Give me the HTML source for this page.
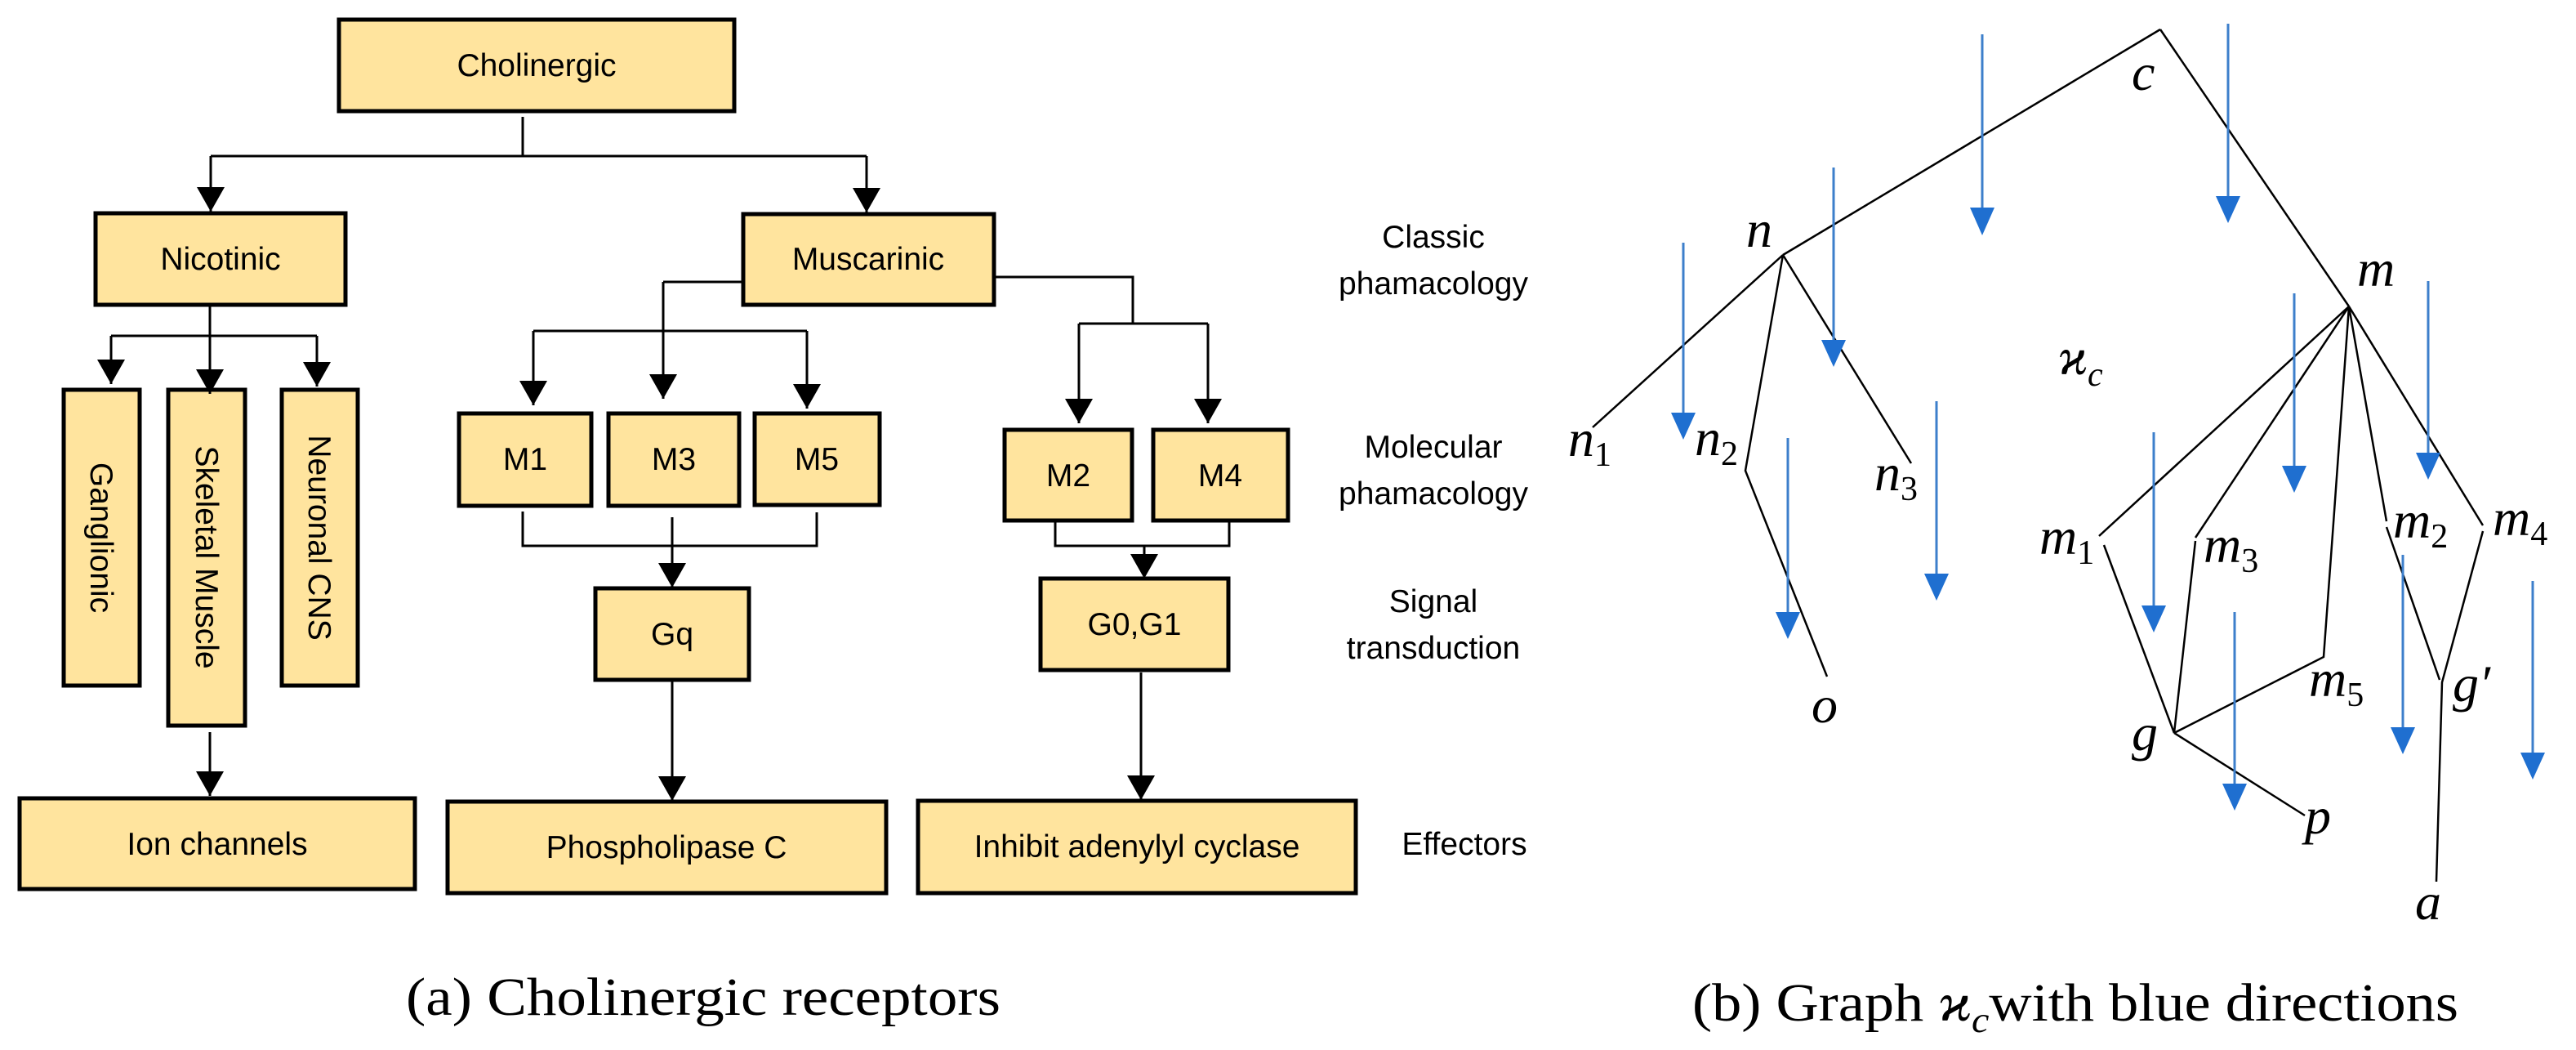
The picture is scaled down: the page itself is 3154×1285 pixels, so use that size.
<!DOCTYPE html>
<html><head><meta charset="utf-8"><style>html,body{margin:0;padding:0;background:#fff}svg{display:block}</style></head>
<body>
<svg width="3154" height="1285" viewBox="0 0 3154 1285" xmlns="http://www.w3.org/2000/svg">
<defs>
<marker id="ah" viewBox="0 0 34 30" refX="17" refY="30" markerWidth="34" markerHeight="30" markerUnits="userSpaceOnUse" orient="0"><path d="M0,0 L34,0 L17,30 Z" fill="#000"/></marker>
</defs>
<g font-family="Liberation Sans, sans-serif" font-size="39" text-anchor="middle" fill="#000">
<g fill="#FFE49E" stroke="#000" stroke-width="5">
<rect x="415" y="24" width="484" height="112"/>
<rect x="117" y="261" width="306" height="112"/>
<rect x="910" y="262" width="307" height="111"/>
<rect x="78" y="477" width="93" height="362"/>
<rect x="206" y="477" width="94" height="411"/>
<rect x="345" y="477" width="93" height="362"/>
<rect x="562" y="506" width="162" height="113"/>
<rect x="745" y="506" width="160" height="113"/>
<rect x="924" y="506" width="153" height="112"/>
<rect x="1230" y="526" width="156" height="111"/>
<rect x="1412" y="526" width="165" height="111"/>
<rect x="729" y="720" width="188" height="112"/>
<rect x="1274" y="708" width="230" height="112"/>
<rect x="24" y="977" width="484" height="111"/>
<rect x="548" y="981" width="537" height="112"/>
<rect x="1124" y="980" width="536" height="113"/>
</g>
<g fill="none" stroke="#000" stroke-width="3">
<path d="M640 143V191M258 191H1061"/>
<path d="M258 191V259" marker-end="url(#ah)"/>
<path d="M1061 191V260" marker-end="url(#ah)"/>
<path d="M257 373V411M136 411H388"/>
<path d="M136 411V470" marker-end="url(#ah)"/>
<path d="M257 411V482" marker-end="url(#ah)"/>
<path d="M388 411V473" marker-end="url(#ah)"/>
<path d="M257 896V974" marker-end="url(#ah)"/>
<path d="M910 345H812M653 405H988"/>
<path d="M812 345V488" marker-end="url(#ah)"/>
<path d="M653 405V496" marker-end="url(#ah)"/>
<path d="M988 405V500" marker-end="url(#ah)"/>
<path d="M640 626V668H1000V627"/>
<path d="M823 633V719" marker-end="url(#ah)"/>
<path d="M823 832V980" marker-end="url(#ah)"/>
<path d="M1217 339H1387V396M1321 396H1479"/>
<path d="M1321 396V518" marker-end="url(#ah)"/>
<path d="M1479 396V518" marker-end="url(#ah)"/>
<path d="M1292 637V668H1505V637"/>
<path d="M1401 668V708" marker-end="url(#ah)"/>
<path d="M1397 823V979" marker-end="url(#ah)"/>
</g>
<text x="657" y="93">Cholinergic</text>
<text x="270" y="330">Nicotinic</text>
<text x="1063" y="330">Muscarinic</text>
<text x="643" y="575">M1</text>
<text x="825" y="575">M3</text>
<text x="1000" y="575">M5</text>
<text x="1308" y="595">M2</text>
<text x="1494" y="595">M4</text>
<text x="823" y="789">Gq</text>
<text x="1389" y="777">G0,G1</text>
<text x="266" y="1046">Ion channels</text>
<text x="816" y="1050">Phospholipase C</text>
<text x="1392" y="1049">Inhibit adenylyl cyclase</text>
<text transform="translate(124,658) rotate(90)" y="13">Ganglionic</text>
<text transform="translate(253,682) rotate(90)" y="13">Skeletal Muscle</text>
<text transform="translate(391,658) rotate(90)" y="13">Neuronal CNS</text>
<text x="1755" y="303">Classic</text>
<text x="1755" y="360">phamacology</text>
<text x="1755" y="560">Molecular</text>
<text x="1755" y="617">phamacology</text>
<text x="1755" y="749">Signal</text>
<text x="1755" y="806">transduction</text>
<text x="1793" y="1046">Effectors</text>
</g>
<g font-family="Liberation Serif, serif" font-size="66">
<text x="497" y="1242" textLength="728" lengthAdjust="spacingAndGlyphs">(a) Cholinergic receptors</text>
<text x="2072" y="1249" textLength="938" lengthAdjust="spacingAndGlyphs">(b) Graph  <tspan font-style="italic">ϰ</tspan><tspan font-style="italic" font-size="44" dy="14">c</tspan><tspan dy="-14">with blue directions</tspan></text>
</g>
<g fill="none" stroke="#000" stroke-width="2.5">
<path d="M2645 36L2183 312M2645 36L2876 375"/>
<path d="M2183 312L1950 523M2183 312L2137 576L2237 828M2183 312L2340 567"/>
<path d="M2876 375L2570 656M2576 667L2662 897M2876 375L2688 658M2688 662L2662 897M2876 375L2857 640L2845 804L2662 897M2662 897L2822 998"/>
<path d="M2876 375L2922 638M2922 645L2987 832M2876 375L3040 643M3040 650L2990 835L2983 1079"/>
</g>
<g font-family="Liberation Serif, serif" font-style="italic" font-size="64" fill="#000">
<text x="2610" y="110">c</text>
<text x="2138" y="302">n</text>
<text x="2886" y="350">m</text>
<text x="2520" y="458">ϰ<tspan font-size="42" dy="14">c</tspan></text>
<text x="1920" y="558">n<tspan font-size="42" dy="12" font-style="normal">1</tspan></text>
<text x="2075" y="557">n<tspan font-size="42" dy="12" font-style="normal">2</tspan></text>
<text x="2295" y="600">n<tspan font-size="42" dy="12" font-style="normal">3</tspan></text>
<text x="2218" y="884">o</text>
<text x="2497" y="678">m<tspan font-size="42" dy="12" font-style="normal">1</tspan></text>
<text x="2698" y="688">m<tspan font-size="42" dy="12" font-style="normal">3</tspan></text>
<text x="2930" y="658">m<tspan font-size="42" dy="12" font-style="normal">2</tspan></text>
<text x="3052" y="655">m<tspan font-size="42" dy="12" font-style="normal">4</tspan></text>
<text x="2827" y="852">m<tspan font-size="42" dy="12" font-style="normal">5</tspan></text>
<text x="3003" y="858">g′</text>
<text x="2610" y="918">g</text>
<text x="2822" y="1020">p</text>
<text x="2957" y="1125">a</text>
</g>
<g stroke="#3D7FCB" stroke-width="3" fill="#1F6FD0">
<line x1="2427" y1="42" x2="2427" y2="256"/><path stroke="none" d="M2412 254H2442L2427 288Z"/>
<line x1="2728" y1="29" x2="2728" y2="241"/><path stroke="none" d="M2713 240H2743L2728 273Z"/>
<line x1="2245" y1="205" x2="2245" y2="417"/><path stroke="none" d="M2230 416H2260L2245 449Z"/>
<line x1="2061" y1="297" x2="2061" y2="506"/><path stroke="none" d="M2046 505H2076L2061 538Z"/>
<line x1="2809" y1="359" x2="2809" y2="571"/><path stroke="none" d="M2794 570H2824L2809 603Z"/>
<line x1="2973" y1="344" x2="2973" y2="555"/><path stroke="none" d="M2958 554H2988L2973 587Z"/>
<line x1="2189" y1="536" x2="2189" y2="750"/><path stroke="none" d="M2174 749H2204L2189 782Z"/>
<line x1="2371" y1="491" x2="2371" y2="703"/><path stroke="none" d="M2356 702H2386L2371 735Z"/>
<line x1="2637" y1="529" x2="2637" y2="742"/><path stroke="none" d="M2622 741H2652L2637 774Z"/>
<line x1="2736" y1="749" x2="2736" y2="960"/><path stroke="none" d="M2721 959H2751L2736 992Z"/>
<line x1="2942" y1="679" x2="2942" y2="891"/><path stroke="none" d="M2927 890H2957L2942 923Z"/>
<line x1="3101" y1="711" x2="3101" y2="922"/><path stroke="none" d="M3086 921H3116L3101 954Z"/>
</g>
</svg>
</body></html>
